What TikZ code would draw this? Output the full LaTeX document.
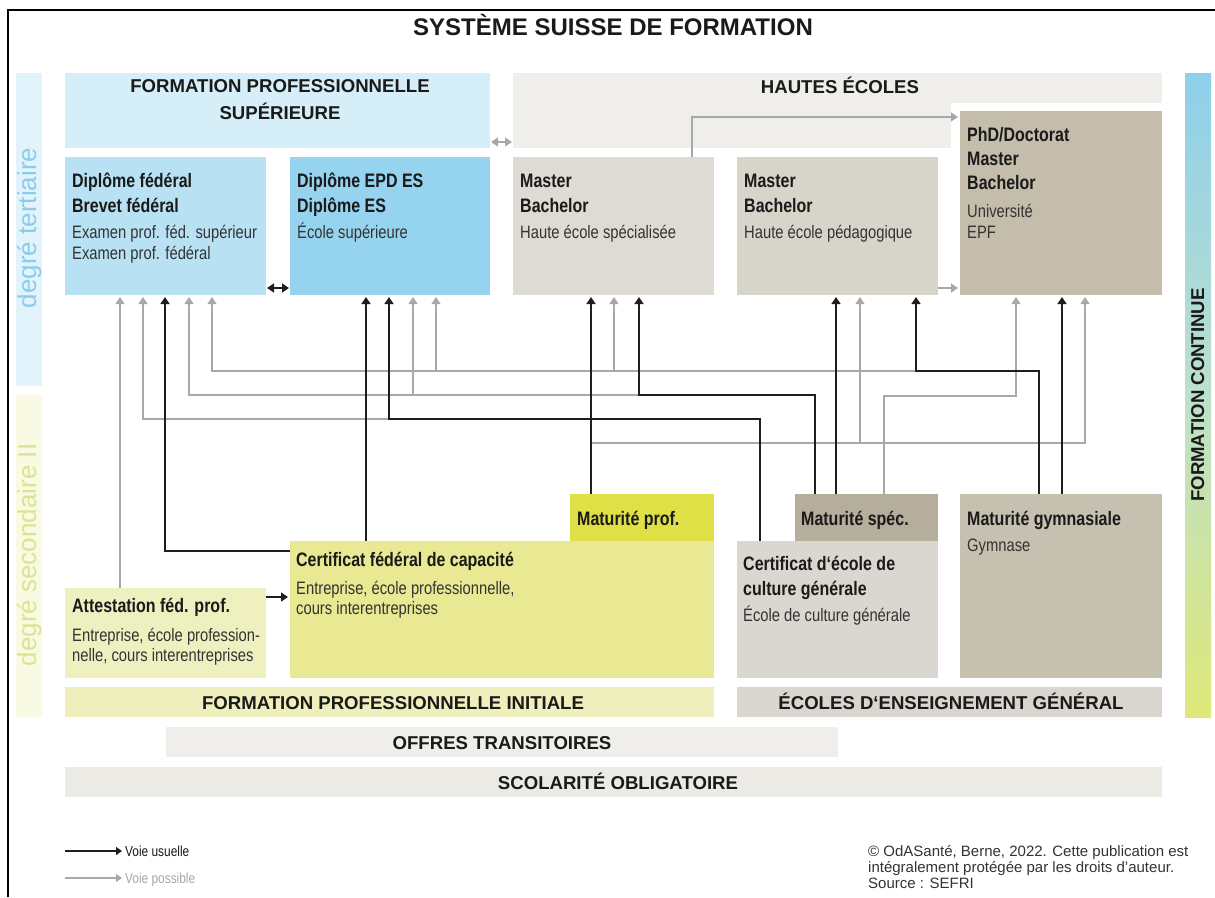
\documentclass[tikz,border=0pt]{standalone}
\usepackage{fontspec}
\setmainfont{Liberation Sans}
\newfontfamily\narrowfont{Liberation Sans}[FakeStretch=0.82]
\usetikzlibrary{arrows.meta,calc}
\definecolor{cFPS}{HTML}{D6EEF8}
\definecolor{cDF}{HTML}{B8E1F3}
\definecolor{cEPD}{HTML}{95D3EE}
\definecolor{cHE}{HTML}{EFEEEA}
\definecolor{cHES}{HTML}{DDDBD3}
\definecolor{cHEP}{HTML}{D7D4CA}
\definecolor{cPHD}{HTML}{C4BDAC}
\definecolor{cMP}{HTML}{DEE046}
\definecolor{cCFC}{HTML}{E8E992}
\definecolor{cATT}{HTML}{EEF0C0}
\definecolor{cFPI}{HTML}{EEEFBC}
\definecolor{cMS}{HTML}{B6AE9C}
\definecolor{cECG}{HTML}{D9D7CF}
\definecolor{cMG}{HTML}{C6C0B1}
\definecolor{cEEG}{HTML}{D8D6CE}
\definecolor{cOT}{HTML}{EFEEEA}
\definecolor{cSO}{HTML}{ECEAE5}
\definecolor{cSideT}{HTML}{E2F3FB}
\definecolor{cSideS}{HTML}{F9FAE3}
\definecolor{cTxtT}{HTML}{8ACDEA}
\definecolor{cTxtS}{HTML}{DDE391}
\definecolor{cFCtop}{HTML}{8ECFEB}
\definecolor{cFCmid}{HTML}{BCE0CC}
\definecolor{cFCbot}{HTML}{DFE878}
\definecolor{lineblack}{HTML}{1E1E1E}
\definecolor{linegrey}{HTML}{A8A8A8}
\definecolor{txtdark}{HTML}{1A1A1A}
\definecolor{txtbody}{HTML}{333333}
\begin{document}
\begin{tikzpicture}[x=1pt,y=-1pt,
  box/.style={inner sep=0pt, outer sep=0pt, anchor=north west, draw=none},
  hdr/.style={font=\fontsize{18.6}{22}\selectfont\bfseries, text=txtdark, anchor=base, inner sep=0pt},
  btitle/.style={font=\narrowfont\fontsize{19.5}{23}\selectfont\bfseries, text=txtdark, anchor=base west, inner sep=0pt},
  btext/.style={font=\narrowfont\fontsize{18}{21}\selectfont, text=txtbody, anchor=base west, inner sep=0pt},
  sidelbl/.style={rotate=90, font=\fontsize{26}{30}\selectfont, anchor=base, inner sep=0pt},
  tipA/.tip={Triangle[width=9pt,length=7pt]},
  usual/.style={draw=lineblack, line width=1.4pt, -tipA, shorten >=2pt},
  poss/.style={draw=linegrey, line width=1.2pt, -tipA, shorten >=2pt},
]
\useasboundingbox (0,0) rectangle (1215,897);
\fill[white] (0,0) rectangle (1215,897);
\draw[line width=1.8pt, black] (8,897) -- (8,10) -- (1215,10);

% side bars
\node[box, fill=cSideT, minimum width=26pt, minimum height=313pt] (sideT) at (16,73) {};
\node[box, fill=cSideS, minimum width=26pt, minimum height=322pt] (sideS) at (16,395) {};
\node[box, top color=cFCtop, bottom color=cFCbot, middle color=cFCmid, minimum width=26pt, minimum height=644pt] (fc) at (1185,73) {};

% boxes
\node[box, fill=cFPS, minimum width=425pt, minimum height=75pt] (fps) at (65,73) {};
\node[box, fill=cHE, minimum width=649pt, minimum height=30pt] (he) at (513,73) {};
\node[box, fill=cHE, minimum width=438pt, minimum height=45pt] (helow) at (513,103) {};
\node[box, fill=cDF, minimum width=201pt, minimum height=138pt] (dfed) at (65,157) {};
\node[box, fill=cEPD, minimum width=200pt, minimum height=138pt] (epd) at (290,157) {};
\node[box, fill=cHES, minimum width=201pt, minimum height=138pt] (hes) at (513,157) {};
\node[box, fill=cHEP, minimum width=201pt, minimum height=138pt] (hep) at (737,157) {};
\node[box, fill=cPHD, minimum width=202pt, minimum height=184pt] (phd) at (960,111) {};
\node[box, fill=cMP, minimum width=144pt, minimum height=47pt] (matprof) at (570,494) {};
\node[box, fill=cCFC, minimum width=424pt, minimum height=137pt] (cfc) at (290,541) {};
\node[box, fill=cATT, minimum width=201pt, minimum height=90pt] (att) at (65,588) {};
\node[box, fill=cFPI, minimum width=649pt, minimum height=30pt] (fpi) at (65,687) {};
\node[box, fill=cMS, minimum width=143pt, minimum height=47pt] (matspec) at (795,494) {};
\node[box, fill=cECG, minimum width=201pt, minimum height=137pt] (ecg) at (737,541) {};
\node[box, fill=cMG, minimum width=202pt, minimum height=184pt] (matgym) at (960,494) {};
\node[box, fill=cEEG, minimum width=425pt, minimum height=30pt] (eeg) at (737,687) {};
\node[box, fill=cOT, minimum width=672pt, minimum height=30pt] (ot) at (166,727) {};
\node[box, fill=cSO, minimum width=1097pt, minimum height=30pt] (so) at (65,767) {};

% title and headers
\node[font=\fontsize{24}{28}\selectfont\bfseries, text=txtdark, anchor=base, inner sep=0pt] (title) at (613,35) {SYSTÈME SUISSE DE FORMATION};
\node[hdr] (fpsT1) at (280,92) {FORMATION PROFESSIONNELLE};
\node[hdr] (fpsT2) at (280,119) {SUPÉRIEURE};
\node[hdr] (heT) at (840,93) {HAUTES ÉCOLES};
\node[hdr] (fpiT) at (393,709) {FORMATION PROFESSIONNELLE INITIALE};
\node[hdr] (eegT) at (951,709) {ÉCOLES D‘ENSEIGNEMENT GÉNÉRAL};
\node[hdr] (otT) at (502,749) {OFFRES TRANSITOIRES};
\node[hdr] (soT) at (618,789) {SCOLARITÉ OBLIGATOIRE};

% side labels
\node[sidelbl, text=cTxtT] (tT) at (36,228) {degré tertiaire};
\node[sidelbl, text=cTxtS] (tS) at (36,555) {degré secondaire II};
\node[rotate=90, hdr] (fcT) at (1204,395) {FORMATION CONTINUE};

% box texts
\node[btitle] (df1) at (72,187) {Diplôme fédéral};
\node[btitle] (df2) at (72,212) {Brevet fédéral};
\node[btext] (df3) at (72,238) {Examen prof. féd. supérieur};
\node[btext] (df4) at (72,259) {Examen prof. fédéral};
\node[btitle] (ep1) at (297,187) {Diplôme EPD ES};
\node[btitle] (ep2) at (297,212) {Diplôme ES};
\node[btext] (ep3) at (297,238) {École supérieure};
\node[btitle] (hs1) at (520,187) {Master};
\node[btitle] (hs2) at (520,212) {Bachelor};
\node[btext] (hs3) at (520,238) {Haute école spécialisée};
\node[btitle] (hp1) at (744,187) {Master};
\node[btitle] (hp2) at (744,212) {Bachelor};
\node[btext] (hp3) at (744,238) {Haute école pédagogique};
\node[btitle] (ph1) at (967,141) {PhD/Doctorat};
\node[btitle] (ph2) at (967,165) {Master};
\node[btitle] (ph3) at (967,189) {Bachelor};
\node[btext] (ph4) at (967,217) {Université};
\node[btext] (ph5) at (967,238) {EPF};
\node[btitle] (mp1) at (577,525) {Maturité prof.};
\node[btitle] (ms1) at (801,525) {Maturité spéc.};
\node[btitle] (mg1) at (967,525) {Maturité gymnasiale};
\node[btext] (mg2) at (967,551) {Gymnase};
\node[btitle] (cf1) at (296,566) {Certificat fédéral de capacité};
\node[btext] (cf2) at (296,594) {Entreprise, école professionnelle,};
\node[btext] (cf3) at (296,614) {cours interentreprises};
\node[btitle] (at1) at (72,612) {Attestation féd. prof.};
\node[btext] (at2) at (72,641) {Entreprise, école profession-};
\node[btext] (at3) at (72,661) {nelle, cours interentreprises};
\node[btitle] (ec1) at (743,570) {Certificat d‘école de};
\node[btitle] (ec2) at (743,595) {culture générale};
\node[btext] (ec3) at (743,621) {École de culture générale};

% junction coordinates
\coordinate (j419) at (389,419);
\coordinate (j395) at (639,395);
\coordinate (b413) at (413,395);
\coordinate (j371) at (916,371);
\coordinate (b436) at (436,371);
\coordinate (b614) at (614,371);
\coordinate (j443) at (591,443);
\coordinate (b860) at (860,443);

% possible paths (grey)
\draw[poss] (att.north -| 120,0) -- (dfed.south -| 120,0);
\draw[poss] (j419) -| (dfed.south -| 143,0);
\draw[poss] (j395) -| (dfed.south -| 189,0);
\draw[poss] (b413) -- (epd.south -| 413,0);
\draw[poss] (j371) -| (dfed.south -| 212,0);
\draw[poss] (b436) -- (epd.south -| 436,0);
\draw[poss] (b614) -- (hes.south -| 614,0);
\draw[poss] (j443) -| (phd.south -| 1085,0);
\draw[poss] (b860) -- (hep.south -| 860,0);
\draw[poss] (matspec.north -| 884,0) -- (884,396) -| (phd.south -| 1016,0);
\draw[poss] (hes.north -| 692,0) |- (phd.west |- 0,117);
\draw[poss] (hep.east |- 0,288) -- (phd.west |- 0,288);
\draw[poss, tipA-tipA, shorten <=1pt, shorten >=1pt] (fps.east |- 0,142) -- (helow.west |- 0,142);

% usual paths (black)
\draw[usual] (cfc.west |- 0,551) -| (dfed.south -| 165,0);
\draw[usual] (cfc.north -| 366,0) -- (epd.south -| 366,0);
\draw[usual] (ecg.north -| 760,0) |- (j419) -- (epd.south -| 389,0);
\draw[usual] (matprof.north -| 591,0) -- (hes.south -| 591,0);
\draw[usual] (matspec.north -| 815,0) |- (j395) -- (hes.south -| 639,0);
\draw[usual] (matspec.north -| 836,0) -- (hep.south -| 836,0);
\draw[usual] (matgym.north -| 1039,0) |- (j371) -- (hep.south -| 916,0);
\draw[usual] (matgym.north -| 1062,0) -- (phd.south -| 1062,0);
\draw[usual] (att.east |- 0,597) -- (cfc.west |- 0,597);
\draw[usual, tipA-tipA, shorten <=1pt, shorten >=1pt] (dfed.east |- 0,288) -- (epd.west |- 0,288);

% legend
\coordinate (lgA1) at (65,851);
\coordinate (lgA2) at (122,851);
\coordinate (lgB1) at (65,878);
\coordinate (lgB2) at (122,878);
\draw[draw=lineblack, line width=1.2pt, -{Triangle[width=8pt,length=6pt]}] (lgA1) -- (lgA2);
\draw[draw=linegrey, line width=1.2pt, -{Triangle[width=8pt,length=6pt]}] (lgB1) -- (lgB2);
\node[font=\narrowfont\fontsize{14.5}{17}\selectfont, text=txtdark, anchor=base west, inner sep=0pt] (lgT1) at (125,856) {Voie usuelle};
\node[font=\narrowfont\fontsize{14.5}{17}\selectfont, text=linegrey, anchor=base west, inner sep=0pt] (lgT2) at (125,883) {Voie possible};

% copyright
\node[font=\fontsize{15}{16}\selectfont, text=txtbody, anchor=base west, inner sep=0pt] (cp1) at (868,856) {© OdASanté, Berne, 2022. Cette publication est};
\node[font=\fontsize{15}{16}\selectfont, text=txtbody, anchor=base west, inner sep=0pt] (cp2) at (868,872) {intégralement protégée par les droits d’auteur.};
\node[font=\fontsize{15}{16}\selectfont, text=txtbody, anchor=base west, inner sep=0pt] (cp3) at (868,888) {Source : SEFRI};
\end{tikzpicture}
\end{document}
